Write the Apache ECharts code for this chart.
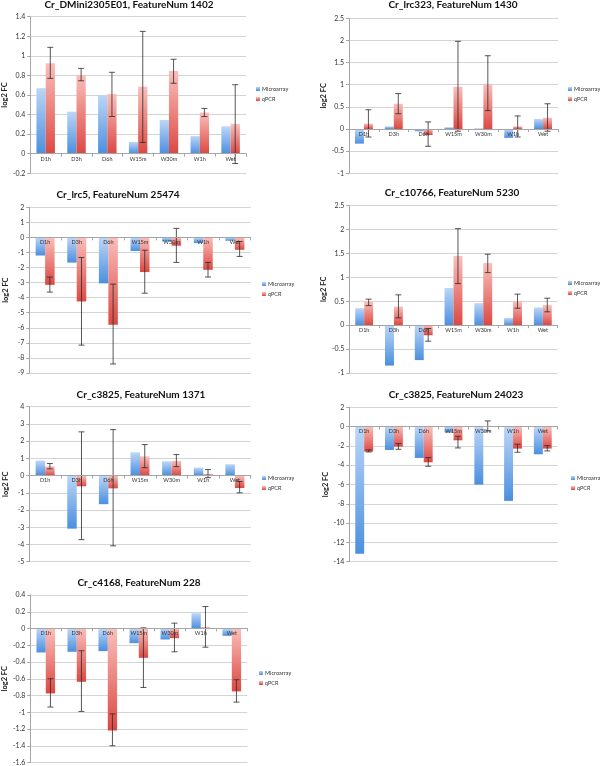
<!DOCTYPE html>
<html>
<head>
<meta charset="utf-8">
<script src="https://cdn.jsdelivr.net/npm/echarts@6/dist/echarts.min.js"></script>
<style>html,body{margin:0;padding:0;background:#fff}#c{width:600px;height:766px}</style>
</head>
<body>
<div id="c"></div>
<script>
const categories = ['D1h', 'D3h', 'D6h', 'W15m', 'W30m', 'W1h', 'Wet'];
const seriesNames = ['Microarray', 'qPCR'];
const titles = [
  'Cr_DMini2305E01, FeatureNum 1402',
  'Cr_lrc323, FeatureNum 1430',
  'Cr_lrc5, FeatureNum 25474',
  'Cr_c10766, FeatureNum 5230',
  'Cr_c3825, FeatureNum 1371',
  'Cr_c3825, FeatureNum 24023',
  'Cr_c4168, FeatureNum 228'
];
const yAxisName = 'log2 FC';

// Panel 1
const p1Micro = [0.67, 0.43, 0.60, 0.12, 0.345, 0.18, 0.28];
const p1Qpcr  = [0.925, 0.805, 0.61, 0.685, 0.845, 0.42, 0.305];
const p1Low   = [0.77, 0.745, 0.38, 0.115, 0.72, 0.38, -0.1];
const p1High  = [1.087, 0.872, 0.832, 1.25, 0.965, 0.463, 0.705];
// Panel 2
const p2Micro = [-0.33, 0.06, -0.05, 0.04, 0.015, -0.2, 0.225];
const p2Qpcr  = [0.12, 0.57, -0.135, 0.955, 1.02, 0.06, 0.255];
const p2Low   = [-0.18, 0.345, -0.39, -0.05, 0.415, -0.18, -0.05];
const p2High  = [0.435, 0.8, 0.16, 1.98, 1.655, 0.295, 0.57];
// Panel 3
const p3Micro = [-1.2, -1.67, -3.05, -0.9, -0.27, -0.38, -0.22];
const p3Qpcr  = [-3.15, -4.25, -5.8, -2.3, -0.55, -2.15, -0.82];
const p3Low   = [-3.63, -7.15, -8.4, -3.7, -1.66, -2.63, -1.26];
const p3High  = [-2.63, -1.33, -3.1, -0.85, 0.6, -1.66, -0.27];
// Panel 4
const p4Micro = [0.355, -0.845, -0.73, 0.78, 0.46, 0.153, 0.37];
const p4Qpcr  = [0.49, 0.39, -0.21, 1.45, 1.3, 0.5, 0.42];
const p4Low   = [0.41, 0.153, -0.335, 0.87, 1.1, 0.355, 0.28];
const p4High  = [0.545, 0.635, -0.07, 2.02, 1.485, 0.65, 0.565];
// Panel 5
const p5Micro = [0.87, -3.08, -1.66, 1.35, 0.83, 0.46, 0.66];
const p5Qpcr  = [0.54, -0.62, -0.74, 1.12, 0.85, 0.1, -0.72];
const p5Low   = [0.39, -3.72, -4.08, 0.46, 0.52, -0.12, -1.0];
const p5High  = [0.7, 2.54, 2.67, 1.8, 1.22, 0.35, -0.35];
// Panel 6
const p6Micro = [-13.17, -2.42, -3.25, -0.62, -6.01, -7.7, -2.87];
const p6Qpcr  = [-2.59, -2.07, -3.7, -1.42, 0.07, -2.28, -2.28];
const p6Low   = [-2.63, -2.35, -4.11, -2.21, -0.45, -2.66, -2.52];
const p6High  = [-2.42, -1.76, -3.21, -1.0, 0.59, -1.83, -1.97];
// Panel 7
const p7Micro = [-0.286, -0.278, -0.27, -0.175, -0.131, 0.183, -0.087];
const p7Qpcr  = [-0.775, -0.636, -1.217, -0.35, -0.115, 0.016, -0.751];
const p7Low   = [-0.938, -0.99, -1.4, -0.704, -0.278, -0.223, -0.879];
const p7High  = [-0.6, -0.266, -1.02, 0.008, 0.064, 0.262, -0.612];

// Y axis ranges
const yMins = [-0.2, -1, -9, -1, -5, -14, -1.6];
const yMaxs = [1.4, 2.5, 2, 2.5, 4, 2, 0.4];
const yIntervals = [0.2, 0.5, 1, 0.5, 1, 2, 0.2];

const panelData = [
  [p1Micro, p1Qpcr, p1Low, p1High],
  [p2Micro, p2Qpcr, p2Low, p2High],
  [p3Micro, p3Qpcr, p3Low, p3High],
  [p4Micro, p4Qpcr, p4Low, p4High],
  [p5Micro, p5Qpcr, p5Low, p5High],
  [p6Micro, p6Qpcr, p6Low, p6High],
  [p7Micro, p7Qpcr, p7Low, p7High]
];

// Layout (pixels)
const gridBoxes = [
  {left: 30, top: 16.7, width: 216, height: 156.6},
  {left: 349, top: 18.3, width: 209, height: 155},
  {left: 29.3, top: 207.3, width: 221.4, height: 165.7},
  {left: 349.3, top: 205.7, width: 208.4, height: 167.3},
  {left: 29.3, top: 406.7, width: 221.4, height: 155},
  {left: 349.3, top: 407.3, width: 208.4, height: 154.4},
  {left: 29.3, top: 595, width: 218, height: 167.7}
];
const titlePos = [[129, 5], [453, 5], [118, 195], [452, 193], [141, 395], [456, 395], [139, 583]];
const legendPos = [[256, 86], [568, 86], [262, 281], [568, 280], [262, 475], [571, 475], [259, 670]];

const FONT = 'Lato, "Liberation Sans", sans-serif';
const blueGrad = new echarts.graphic.LinearGradient(0, 0, 0, 1, [
  {offset: 0, color: '#bcd6f7'}, {offset: 1, color: '#4b8fdf'}]);
const redGrad = new echarts.graphic.LinearGradient(0, 0, 0, 1, [
  {offset: 0, color: '#fabfbb'}, {offset: 1, color: '#dc4842'}]);

const option = {
  backgroundColor: '#fff',
  animation: false,
  grid: [], xAxis: [], yAxis: [], series: [], legend: [], graphic: []
};

panelData.forEach(function (d, i) {
  const box = gridBoxes[i];
  // place the category axis at the value-axis zero line
  const zeroOffset = -box.height * (0 - yMins[i]) / (yMaxs[i] - yMins[i]);
  option.grid.push(Object.assign({containLabel: false}, box));
  option.xAxis.push({
    type: 'category', gridIndex: i, data: categories, z: 10,
    position: 'bottom', offset: zeroOffset,
    axisLine: {onZero: false, lineStyle: {color: '#a6a6a6', width: 1}},
    axisTick: {show: true, length: 3, lineStyle: {color: '#a6a6a6'}},
    axisLabel: {fontSize: 5.5, color: '#333', margin: 2, fontFamily: FONT, interval: 0}
  });
  option.yAxis.push({
    type: 'value', gridIndex: i, min: yMins[i], max: yMaxs[i], interval: yIntervals[i],
    name: yAxisName, nameLocation: 'middle', nameGap: 20, nameRotate: 90,
    nameTextStyle: {fontSize: 7.5, fontWeight: 'bold', color: '#222', fontFamily: FONT},
    axisLine: {show: true, onZero: false, lineStyle: {color: '#a6a6a6'}},
    axisTick: {show: true, length: 3, lineStyle: {color: '#a6a6a6'}},
    axisLabel: {fontSize: 7, color: '#333', margin: 5, fontFamily: FONT},
    splitLine: {show: true, lineStyle: {color: '#d4d4d4', width: 1}}
  });
  option.series.push({
    name: seriesNames[0], type: 'bar', xAxisIndex: i, yAxisIndex: i, data: d[0],
    barGap: '0%', barCategoryGap: '40%', itemStyle: {color: blueGrad}
  });
  option.series.push({
    name: seriesNames[1], type: 'bar', xAxisIndex: i, yAxisIndex: i, data: d[1],
    barGap: '0%', barCategoryGap: '40%', itemStyle: {color: redGrad}
  });
  option.series.push({
    name: 'err' + i, type: 'custom', xAxisIndex: i, yAxisIndex: i, z: 5,
    data: d[2].map(function (lo, k) { return [k, lo, d[3][k]]; }),
    encode: {x: 0, y: [1, 2]},
    renderItem: function (params, api) {
      const k = api.value(0);
      const lo = api.coord([k, api.value(1)]);
      const hi = api.coord([k, api.value(2)]);
      const band = api.size([1, 0])[0];
      const cx = lo[0] + band * 0.15;
      const hw = 3;
      const st = {stroke: '#2b2b2b', lineWidth: 0.8};
      return {type: 'group', children: [
        {type: 'line', shape: {x1: cx, y1: lo[1], x2: cx, y2: hi[1]}, style: st},
        {type: 'line', shape: {x1: cx - hw, y1: lo[1], x2: cx + hw, y2: lo[1]}, style: st},
        {type: 'line', shape: {x1: cx - hw, y1: hi[1], x2: cx + hw, y2: hi[1]}, style: st}
      ]};
    }
  });
  option.legend.push({
    data: seriesNames, orient: 'vertical', left: legendPos[i][0], top: legendPos[i][1],
    icon: 'rect', itemWidth: 4, itemHeight: 4, itemGap: 4, padding: 0,
    textStyle: {fontSize: 5.5, color: '#333', fontFamily: FONT, padding: [0, 0, 0, -3]},
    selectedMode: false
  });
  option.graphic.push({
    type: 'text', x: titlePos[i][0], y: titlePos[i][1],
    style: {text: titles[i], fontSize: 10, fontWeight: 'bold', fill: '#111', fontFamily: FONT,
      textAlign: 'center', textVerticalAlign: 'middle'}
  });
});

const chart = echarts.init(document.getElementById('c'), null, {renderer: 'canvas'});
chart.setOption(option);
</script>
</body>
</html>
